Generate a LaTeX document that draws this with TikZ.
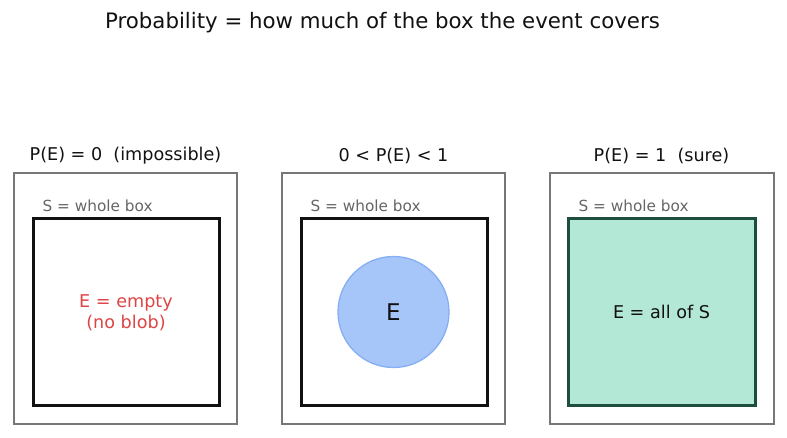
\documentclass[tikz,border=0pt]{standalone}
\usepackage{fontspec}
\setmainfont{DejaVu Sans}
\definecolor{outerc}{HTML}{777777}
\definecolor{innerc}{HTML}{111111}
\definecolor{graytxt}{HTML}{666666}
\definecolor{redtxt}{HTML}{DD4444}
\definecolor{bluef}{HTML}{A6C6FA}
\definecolor{bluee}{HTML}{86AEF2}
\definecolor{greenf}{HTML}{B4E8D6}
\definecolor{greene}{HTML}{1D4D3B}
\tikzset{
  outerbox/.style={draw=outerc, line width=1.4pt},
  innerbox/.style={draw=innerc, line width=3pt},
  ptitle/.style={font=\fontsize{17.6}{21}\selectfont, text=innerc},
  slabel/.style={font=\fontsize{15.3}{18}\selectfont, text=graytxt, anchor=west},
}
\begin{document}
\begin{tikzpicture}[x=1pt,y=-1pt]
\useasboundingbox (0,0) rectangle (787,438);
\node[font=\fontsize{21.3}{25}\selectfont, text=innerc] (title) at (382.5,23) {Probability = how much of the box the event covers};
% panel 1
\node[ptitle] (t1) at (125.5,156) {P(E) = 0\ \ (impossible)};
\draw[outerbox] (14,173) rectangle (237,424);
\node[slabel] (s1) at (39,206) {S = whole box};
\draw[innerbox] (33,219) rectangle (219,405);
\node[font=\fontsize{17.6}{21.5}\selectfont, text=redtxt, align=center] (e1) at (126,312.5) {E = empty\\(no blob)};
% panel 2
\node[ptitle] (t2) at (393.5,156) {0 < P(E) < 1};
\draw[outerbox] (282,173) rectangle (505,424);
\node[slabel] (s2) at (307,206) {S = whole box};
\draw[innerbox] (301,219) rectangle (487,405);
\draw[fill=bluef, draw=bluee, line width=1.3pt] (393.5,312) circle (55.5);
\node[font=\fontsize{23}{27}\selectfont, text=innerc] (e2) at (393.5,312) {E};
% panel 3
\node[ptitle] (t3) at (661.5,156) {P(E) = 1\ \ (sure)};
\draw[outerbox] (550,173) rectangle (774,424);
\node[slabel] (s3) at (575,206) {S = whole box};
\draw[innerbox, draw=greene, fill=greenf] (568.5,219) rectangle (755,405);
\node[font=\fontsize{17.6}{21}\selectfont, text=innerc] (e3) at (661.5,312) {E = all of S};
\end{tikzpicture}
\end{document}
